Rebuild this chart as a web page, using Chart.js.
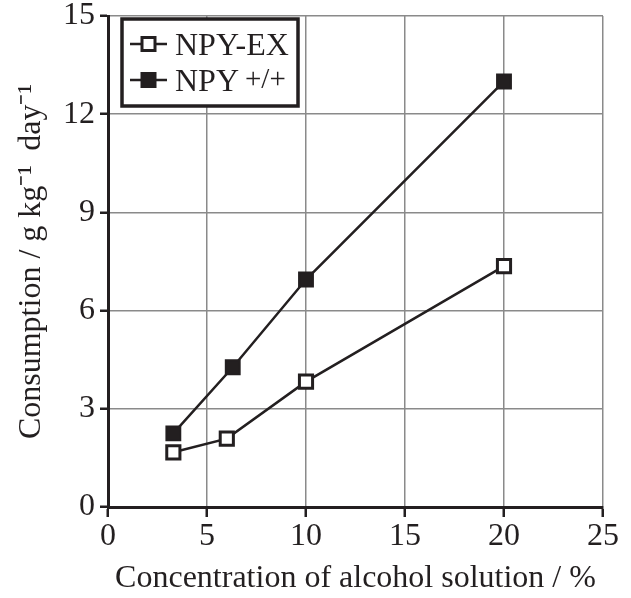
<!DOCTYPE html>
<html><head><meta charset="utf-8">
<script src="https://cdn.jsdelivr.net/npm/chart.js@4/dist/chart.umd.min.js"></script>
<style>html,body{margin:0;padding:0;background:#fff}#wrap{width:631px;height:598px;position:relative}</style>
</head><body><div id="wrap"><canvas id="c" width="631" height="598"></canvas></div>
<script>
const seriesNames = ["NPY-EX", "NPY"];
const seriesSup = ["", "+/+"];
const exX = [3.3, 6, 10, 20];
const exY = [1.67, 2.09, 3.83, 7.36];
const wtX = [3.3, 6.3, 10, 20];
const wtY = [2.25, 4.27, 6.95, 13.0];
const xTicks = [0, 5, 10, 15, 20, 25];
const yTicks = [0, 3, 6, 9, 12, 15];
const xTitle = "Concentration of alcohol solution / %";
const yTitle = "Consumption / g kg\u207B\u00B9 \u2009day\u207B\u00B9";

const INK = '#231f20';
const FONT = "'Liberation Serif', 'Times New Roman', serif";

const legendPlugin = {
  id: 'boxLegend',
  afterDraw(chart) {
    const ctx = chart.ctx, a = chart.chartArea;
    const x0 = a.left + 14, y0 = a.top + 3, w = 176, h = 87;
    ctx.save();
    ctx.fillStyle = '#fff';
    ctx.fillRect(x0, y0, w, h);
    ctx.lineWidth = 3.5; ctx.strokeStyle = INK;
    ctx.strokeRect(x0, y0, w, h);
    const rows = [y0 + 25, y0 + 61];
    const fills = ['#fff', INK];
    rows.forEach((ry, i) => {
      ctx.beginPath(); ctx.lineWidth = 2.5; ctx.strokeStyle = INK;
      ctx.moveTo(x0 + 8, ry); ctx.lineTo(x0 + 45, ry); ctx.stroke();
      ctx.fillStyle = fills[i]; ctx.lineWidth = 3;
      ctx.fillRect(x0 + 20, ry - 6.5, 13, 13);
      ctx.strokeRect(x0 + 20, ry - 6.5, 13, 13);
      ctx.fillStyle = INK; ctx.textBaseline = 'alphabetic'; ctx.textAlign = 'left';
      ctx.font = "32px " + FONT;
      ctx.fillText(seriesNames[i], x0 + 53, ry + 11);
      if (seriesSup[i]) {
        const tw = ctx.measureText(seriesNames[i]).width + 6;
        ctx.font = "29px " + FONT;
        ctx.fillText(seriesSup[i], x0 + 53 + tw, ry + 8);
      }
    });
    ctx.restore();
  }
};

const mk = (xs, ys) => xs.map((x, i) => ({x, y: ys[i]}));

new Chart(document.getElementById('c'), {
  type: 'line',
  data: {
    datasets: [
      {label: seriesNames[0], data: mk(exX, exY), borderColor: INK, borderWidth: 2.5,
       pointStyle: 'rect', pointRadius: 9.3, pointBorderWidth: 3, pointBackgroundColor: '#fff', pointBorderColor: INK, tension: 0},
      {label: seriesNames[1] + ' ' + seriesSup[1], data: mk(wtX, wtY), borderColor: INK, borderWidth: 2.5,
       pointStyle: 'rect', pointRadius: 9.8, pointBorderWidth: 2, pointBackgroundColor: INK, pointBorderColor: INK, tension: 0}
    ]
  },
  options: {
    responsive: false, animation: false, devicePixelRatio: 1,
    layout: {padding: {left: 0, right: 28, top: 16, bottom: 0}},
    plugins: {legend: {display: false}, tooltip: {enabled: false}},
    scales: {
      x: {
        type: 'linear', min: 0, max: 25,
        afterBuildTicks: s => { s.ticks = xTicks.map(v => ({value: v})); },
        afterFit: s => { s.height = 91; s.paddingLeft = 0; s.paddingRight = 0; },
        ticks: {color: INK, font: {family: FONT, size: 32}, padding: 0, maxRotation: 0},
        grid: {color: '#8a8a8a', lineWidth: 1.5, tickColor: INK, tickLength: 10, tickWidth: 2.5},
        border: {color: INK, width: 3},
        title: {display: true, text: xTitle, color: INK, font: {family: FONT, size: 32}, padding: {top: 2, bottom: 0}}
      },
      y: {
        min: 0, max: 15,
        afterBuildTicks: s => { s.ticks = yTicks.map(v => ({value: v})); },
        afterFit: s => { s.width = 108; s.paddingTop = 0; s.paddingBottom = 0; },
        ticks: {color: INK, font: {family: FONT, size: 32}, padding: 5},
        grid: {color: '#8a8a8a', lineWidth: 1.5, tickColor: INK, tickLength: 8, tickWidth: 2.5},
        border: {color: INK, width: 3},
        title: {display: true, text: yTitle, color: INK, font: {family: FONT, size: 32}, padding: {top: 12, bottom: 4}}
      }
    }
  },
  plugins: [legendPlugin]
});
</script></body></html>
